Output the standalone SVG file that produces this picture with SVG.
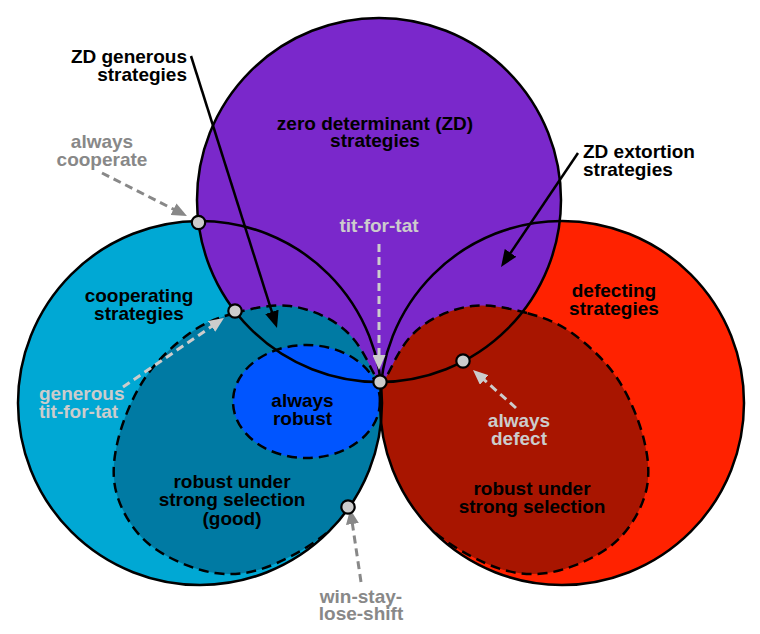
<svg xmlns="http://www.w3.org/2000/svg" width="760" height="634" viewBox="0 0 760 634">
<style>
text{font-family:"Liberation Sans",Arial,sans-serif;font-weight:bold;font-size:19px}
.lbl{fill:#000}
.dk{fill:#888}
.lt{fill:#ccc}
.c{text-anchor:middle}
.e{text-anchor:end}
.outline{fill:none;stroke:#000;stroke-width:2.5}
.dash{stroke:#000;stroke-width:2.5;stroke-dasharray:10,6}
.dot{fill:#ccc;stroke:#000;stroke-width:2.2}
.arrB{stroke:#000;stroke-width:2.5;fill:none}
.arrD{stroke:#888;stroke-width:3;stroke-dasharray:8,5;fill:none}
.arrL{stroke:#ccc;stroke-width:3;stroke-dasharray:8,5;fill:none}
</style>
<defs>
<clipPath id="clipBlue"><circle cx="200" cy="403" r="182"/></clipPath>
<clipPath id="clipRed"><circle cx="562" cy="403" r="182"/></clipPath>
<marker id="ahB" markerUnits="userSpaceOnUse" markerWidth="18" markerHeight="14" refX="11" refY="7" orient="auto"><path d="M0,0 L17,7 L0,14 z" fill="#000"/></marker>
<marker id="ahD" markerUnits="userSpaceOnUse" markerWidth="16" markerHeight="13" refX="9" refY="6.5" orient="auto"><path d="M0,0 L15,6.5 L0,13 z" fill="#888"/></marker>
<marker id="ahL" markerUnits="userSpaceOnUse" markerWidth="16" markerHeight="13" refX="9" refY="6.5" orient="auto"><path d="M0,0 L15,6.5 L0,13 z" fill="#ccc"/></marker>
<path id="robustShape" d="M235,313 C251.7,308.5 272.5,303.8 290,306 C307.5,308.2 326.7,316 340,326 C353.3,336 361.7,348.7 370,366 C378.3,383.3 394.2,405.2 390,430 C385.8,454.8 363.8,492.8 345,515 C326.2,537.2 298.7,553.3 277,563 C255.3,572.7 236.2,576 215,573 C193.8,570 166.3,558 150,545 C133.7,532 122.3,512.5 117,495 C111.7,477.5 113.3,459.5 118,440 C122.7,420.5 133,395.8 145,378 C157,360.2 175,343.8 190,333 C205,322.2 218.3,317.5 235,313 Z"/>
</defs>

<g id="cooperating">
<circle cx="200" cy="403" r="182" fill="#00a8d4"/>
</g>
<g id="defecting">
<circle cx="562" cy="403" r="182" fill="#ff2200"/>
</g>
<g id="zd">
<circle cx="379" cy="200" r="182" fill="#7a28cb"/>
</g>
<g id="robust-good" clip-path="url(#clipBlue)">
<use href="#robustShape" fill="#007aa3" class="dash"/>
</g>
<g id="robust-defect" clip-path="url(#clipRed)">
<use href="#robustShape" transform="matrix(-1 0 0 1 762 0)" fill="#a81500" class="dash"/>
</g>
<g id="always-robust" clip-path="url(#clipBlue)">
<ellipse cx="306.5" cy="401.5" rx="73.5" ry="56.5" fill="#0055ff" class="dash"/>
</g>
<g id="outlines">
<circle cx="200" cy="403" r="182" class="outline"/>
<circle cx="562" cy="403" r="182" class="outline"/>
<circle cx="379" cy="200" r="182" class="outline"/>
</g>

<g id="connectors">
<line x1="191" y1="56" x2="275.2" y2="322.3" class="arrB" marker-end="url(#ahB)"/>
<line x1="578" y1="153" x2="504.4" y2="262" class="arrB" marker-end="url(#ahB)"/>
<line x1="102" y1="173" x2="181.6" y2="213.3" class="arrD" marker-end="url(#ahD)"/>
<line x1="123" y1="387" x2="219" y2="321.4" class="arrL" marker-end="url(#ahL)"/>
<line x1="379" y1="244" x2="379" y2="364" class="arrL" marker-end="url(#ahL)"/>
<line x1="516" y1="408" x2="477.5" y2="374" class="arrL" marker-end="url(#ahL)"/>
<line x1="361" y1="582" x2="351.1" y2="515.1" class="arrD" marker-end="url(#ahD)"/>
</g>

<g id="dot-always-cooperate"><circle cx="198.5" cy="222.5" r="6.7" class="dot"/></g>
<g id="dot-generous-tft"><circle cx="235" cy="311" r="6.7" class="dot"/></g>
<g id="dot-tft"><circle cx="380" cy="382" r="6.7" class="dot"/></g>
<g id="dot-always-defect"><circle cx="463" cy="361" r="6.7" class="dot"/></g>
<g id="dot-wsls"><circle cx="348" cy="507" r="6.7" class="dot"/></g>

<g id="labels">
<text class="lbl e" x="187" y="63">ZD generous</text>
<text class="lbl e" x="187" y="81">strategies</text>
<text class="dk c" x="102" y="148">always</text>
<text class="dk c" x="102" y="166">cooperate</text>
<text class="lbl c" x="375" y="129.5">zero determinant (ZD)</text>
<text class="lbl c" x="375" y="147">strategies</text>
<text class="lt c" x="379" y="232">tit-for-tat</text>
<text class="lbl" x="583" y="158">ZD extortion</text>
<text class="lbl" x="583" y="176">strategies</text>
<text class="lbl c" x="139" y="302">cooperating</text>
<text class="lbl c" x="139" y="320">strategies</text>
<text class="lbl c" x="614" y="297">defecting</text>
<text class="lbl c" x="614" y="315">strategies</text>
<text class="lt" x="39" y="400">generous</text>
<text class="lt" x="39" y="417.5">tit-for-tat</text>
<text class="lbl c" x="302.5" y="406.5">always</text>
<text class="lbl c" x="302.5" y="424.5">robust</text>
<text class="lt c" x="519" y="427">always</text>
<text class="lt c" x="519" y="445">defect</text>
<text class="lbl c" x="232" y="487.5">robust under</text>
<text class="lbl c" x="232" y="506">strong selection</text>
<text class="lbl c" x="232" y="524.5">(good)</text>
<text class="lbl c" x="532" y="495">robust under</text>
<text class="lbl c" x="532" y="513">strong selection</text>
<text class="dk c" x="361" y="603">win-stay-</text>
<text class="dk c" x="361" y="620">lose-shift</text>
</g>
</svg>
